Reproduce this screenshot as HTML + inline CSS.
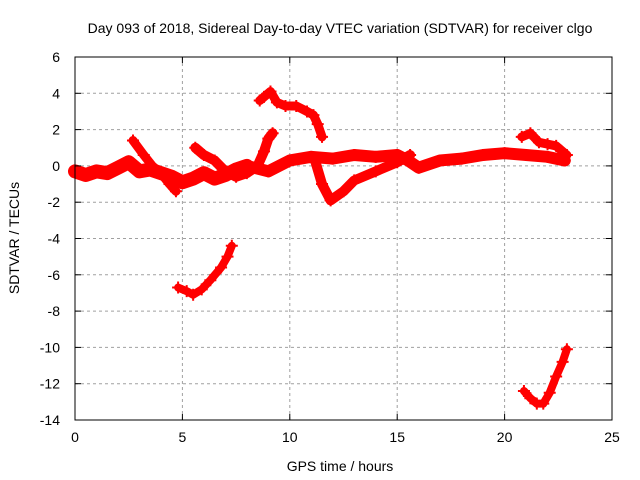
<!DOCTYPE html>
<html><head><meta charset="utf-8"><style>
body{margin:0;background:#fff}
svg{display:block;font-family:"Liberation Sans",sans-serif}
</style></head><body>
<svg width="640" height="480">
<rect width="640" height="480" fill="#fff"/>
<g id="grid"></g>
<g id="series"></g>
<rect x="75" y="57" width="537" height="363" fill="none" stroke="#000" stroke-width="1"/>
<g id="axes"></g>
<text x="340" y="33" text-anchor="middle" font-size="14">Day 093 of 2018, Sidereal Day-to-day VTEC variation (SDTVAR) for receiver clgo</text>
<text x="340" y="471" text-anchor="middle" font-size="14">GPS time / hours</text>
<text transform="translate(19,238) rotate(-90)" text-anchor="middle" font-size="14">SDTVAR / TECUs</text>
</svg>
<script>
const xTicks=[0,5,10,15,20,25];
const yTicks=[-14,-12,-10,-8,-6,-4,-2,0,2,4,6];
const s1x=[0,0.5,1,1.5,2,2.5,3,3.5,4,4.5,5,5.5,6,6.5,7,7.5,8];
const s1y=[-0.3,-0.5,-0.3,-0.4,-0.1,0.2,-0.3,-0.2,-0.4,-0.6,-0.9,-0.7,-0.4,-0.7,-0.5,-0.2,0];
const s2x=[2.7,3.2,3.6,4.0,4.4,4.7];
const s2y=[1.4,0.6,0.0,-0.4,-1.0,-1.4];
const s3x=[5.6,6.0,6.5,7.0,7.5,8.0,8.5,8.8,9.0,9.2];
const s3y=[1.0,0.6,0.3,-0.3,-0.6,-0.4,0,0.8,1.5,1.8];
const s4x=[8,9,10,11,12,13,14,15,15.5,16,17,18,19,20,21,22,22.8];
const s4y=[0.0,-0.3,0.3,0.5,0.4,0.6,0.5,0.6,0.3,-0.1,0.3,0.4,0.6,0.7,0.6,0.5,0.3];
const s5x=[11.2,11.5,11.9,12.5,13,14,15,15.6];
const s5y=[0.2,-1.0,-1.9,-1.4,-0.8,-0.3,0.2,0.6];
const s6x=[20.8,21.2,21.6,22,22.4,22.9];
const s6y=[1.6,1.8,1.3,1.2,1.1,0.6];
const s7x=[8.6,8.8,9.1,9.4,9.8,10.3,10.8,11.1,11.3,11.5];
const s7y=[3.6,3.8,4.1,3.5,3.3,3.3,3.0,2.8,2.3,1.6];
const s8x=[4.8,5.2,5.5,5.9,6.3,6.8,7.1,7.3];
const s8y=[-6.7,-6.9,-7.1,-6.8,-6.3,-5.6,-5.0,-4.4];
const s9x=[20.9,21.2,21.5,21.8,22.1,22.4,22.7,22.9];
const s9y=[-12.4,-12.8,-13.1,-13.1,-12.5,-11.6,-10.8,-10.1];

const NS="http://www.w3.org/2000/svg";
const X=v=>75+v*537/25;
const Y=v=>57+(6-v)*363/20;
const grid=document.getElementById('grid'),axes=document.getElementById('axes'),ser=document.getElementById('series');
function mk(t,a,p){const e=document.createElementNS(NS,t);for(const k in a)e.setAttribute(k,a[k]);p.appendChild(e);return e;}
xTicks.forEach(t=>{
  const x=X(t);
  if(t>0&&t<25){const g=mk('line',{x1:x,x2:x,y1:57,y2:420,stroke:'#a0a0a0','stroke-dasharray':'3,3'},grid);
  
  }
  const l=mk('line',{x1:x,x2:x,y1:420,y2:414,stroke:'#000'},axes);
  
  
  const l2=mk('line',{x1:x,x2:x,y1:57,y2:63,stroke:'#000'},axes);
  
  
  const tx=mk('text',{x:x,y:442,'text-anchor':'middle','font-size':'14'},axes);tx.textContent=t;
  
  
});
yTicks.forEach(t=>{
  const y=Y(t);
  if(t>-14&&t<6){const g=mk('line',{x1:75,x2:612,y1:y,y2:y,stroke:'#a0a0a0','stroke-dasharray':'3,3'},grid);
  
  }
  const l=mk('line',{x1:75,x2:81,y1:y,y2:y,stroke:'#000'},axes);
  
  
  const l2=mk('line',{x1:606,x2:612,y1:y,y2:y,stroke:'#000'},axes);
  
  
  const tx=mk('text',{x:60,y:y+5,'text-anchor':'end','font-size':'14'},axes);tx.textContent=t;
  
  
});
const all=[[s1x,s1y,14],[s2x,s2y,9],[s3x,s3y,10],[s4x,s4y,12],[s5x,s5y,10],[s6x,s6y,9],[s7x,s7y,9],[s8x,s8y,8],[s9x,s9y,8]];
all.forEach(([xs,ys,w],i)=>{
  const pts=xs.map((x,j)=>X(x)+','+Y(ys[j])).join(' ');
  const p=mk('polyline',{points:pts,fill:'none',stroke:'#ff0000','stroke-width':w,'stroke-linejoin':'round','stroke-linecap':'round'},ser);
  
  
  xs.forEach((x,j)=>{
    const cx=X(x),cy=Y(ys[j]);
    const m=mk('path',{d:`M${cx-6},${cy}h12M${cx},${cy-6}v12`,stroke:'#ff0000','stroke-width':'2'},ser);
    
    
  });
});
</script>
</body></html>
